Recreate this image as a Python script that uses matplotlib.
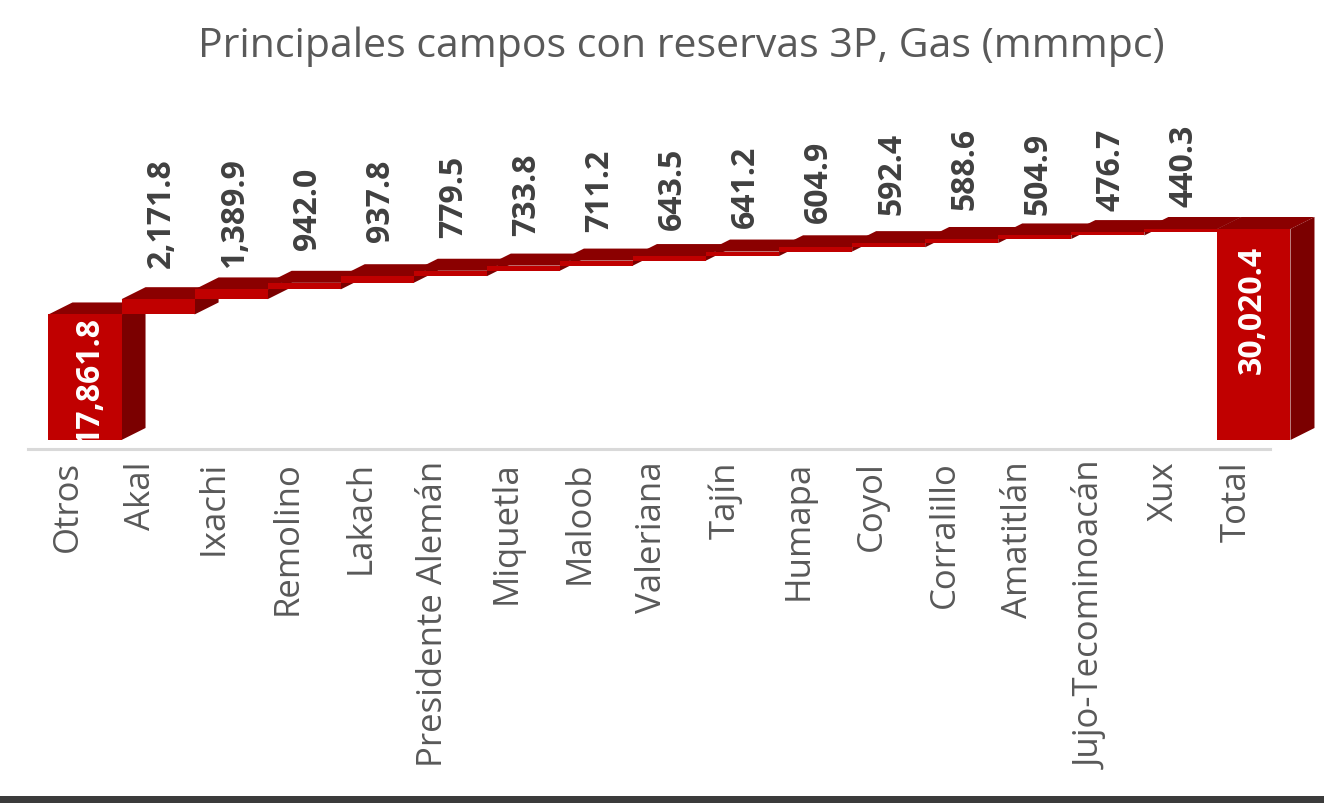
import matplotlib
matplotlib.use("Agg")
import matplotlib.pyplot as plt
from matplotlib.patches import Polygon, Rectangle

categories = ["Otros", "Akal", "Ixachi", "Remolino", "Lakach", "Presidente Alemán", "Miquetla",
              "Maloob", "Valeriana", "Tajín", "Humapa", "Coyol", "Corralillo", "Amatitlán",
              "Jujo-Tecominoacán", "Xux", "Total"]
values = [17861.8, 2171.8, 1389.9, 942.0, 937.8, 779.5, 733.8, 711.2, 643.5, 641.2,
          604.9, 592.4, 588.6, 504.9, 476.7, 440.3, 30020.4]
title = "Principales campos con reservas 3P, Gas (mmmpc)"

# vertical lift of each outside label above its bar top, in pixels
label_lift = [32, 22, 34, 35, 34, 31, 30, 27, 25, 25, 29, 30, 21, 22, 23]

W, H = 1324, 804
FRONT, TOP, SIDE = "#C00000", "#8B0000", "#7B0000"
TEXT = "#595959"
STEP = 73.06
FIRST_CENTER = 85.0
BASE_PX = 441.0
PX_PER_UNIT = 211.0 / 30020.4
AX_L, AX_R, AX_T = 28, 1320, 100
LINE_END = 1270
BAR_DX = 24 / STEP
BAR_DY = 12 / PX_PER_UNIT

plt.rcParams["font.family"] = ["Open Sans", "DejaVu Sans"]
fig = plt.figure(figsize=(W / 100, H / 100), dpi=100, facecolor="white")
ax = fig.add_axes([AX_L / W, 1 - BASE_PX / H, (AX_R - AX_L) / W, (BASE_PX - AX_T) / H])
ax.patch.set_alpha(0)
ax.set_xlim((AX_L - FIRST_CENTER) / STEP, (AX_R - FIRST_CENTER) / STEP)
ax.set_ylim(0, (BASE_PX - AX_T) / PX_PER_UNIT)

for s in ("top", "left", "right"):
    ax.spines[s].set_visible(False)
ax.spines["bottom"].set_position(("outward", 9 * 0.72))
ax.spines["bottom"].set_color("#D9D9D9")
ax.spines["bottom"].set_linewidth(2.2)
ax.spines["bottom"].set_bounds((AX_L - FIRST_CENTER) / STEP, (LINE_END - FIRST_CENTER) / STEP)
ax.yaxis.set_visible(False)

positions = list(range(len(categories)))
n = len(categories)
bottoms, running = [], 0.0
for i, v in enumerate(values):
    if i == n - 1:
        bottoms.append(0.0)
    else:
        bottoms.append(running)
        running += v

for i, (v, b) in enumerate(zip(values, bottoms)):
    l, r, t = i - 0.5, i + 0.5, b + v
    z = 2 + i
    ax.bar(i, v, width=1.0, bottom=b, color=FRONT, linewidth=0, zorder=z + 0.3)
    ax.add_patch(Polygon([(l, t), (r, t), (r + BAR_DX, t + BAR_DY), (l + BAR_DX, t + BAR_DY)],
                         closed=True, fc=TOP, ec="none", zorder=z + 0.1, clip_on=False))
    ax.add_patch(Polygon([(r, b), (r + BAR_DX, b + BAR_DY), (r + BAR_DX, t + BAR_DY), (r, t)],
                         closed=True, fc=SIDE, ec="none", zorder=z + 0.2, clip_on=False))

label_font = dict(rotation=90, fontweight="bold", fontsize=23, zorder=50, ha="center")
for i in range(1, n - 1):
    ax.annotate(f"{values[i]:,.1f}", (i, bottoms[i] + values[i]), xytext=(3, label_lift[i - 1]),
                textcoords="offset pixels", va="bottom", color="#404040", **label_font)

# inside labels of the first and last bars
first = ax.annotate(f"{values[0]:,.1f}", (0, 0), xytext=(5, -4), textcoords="offset pixels",
                    va="bottom", color="white", annotation_clip=False, **label_font)
first.set_clip_on(True)
first.set_clip_box(ax.bbox)
last = ax.annotate(f"{values[-1]:,.1f}", (n - 1, values[-1]), xytext=(-2, -16), textcoords="offset pixels",
                   va="top", color="white", annotation_clip=False, **label_font)

ax.set_xticks([p - 17 / STEP for p in positions])
ax.set_xticklabels(categories, rotation=90, fontsize=25, color=TEXT, ha="center", va="top")
ax.tick_params(axis="x", length=0, pad=15 * 0.72 - 2.8)

fig.text(681 / W, 1 - 47 / H, title, ha="center", va="center", fontsize=29.5, color=TEXT)
fig.add_artist(Rectangle((0, 0), 1, 7 / H, transform=fig.transFigure, fc="#3B3B3B", ec="none"))

fig.savefig("out.png", dpi=100)
